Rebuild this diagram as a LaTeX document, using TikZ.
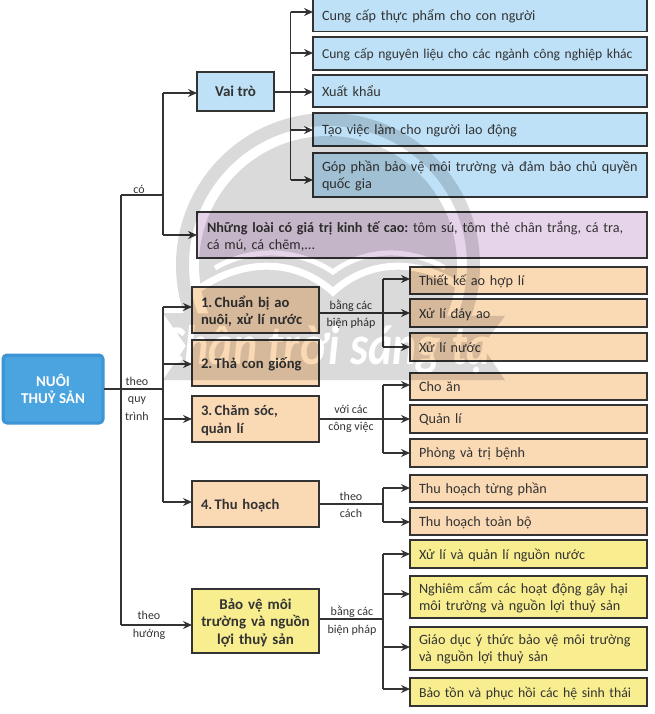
\documentclass[tikz,border=0pt]{standalone}
\usepackage{fontspec}
\setmainfont{Carlito}
\usetikzlibrary{arrows.meta}
\definecolor{inkcol}{HTML}{333333}
\definecolor{bluecol}{HTML}{BEE1F7}
\definecolor{maincol}{HTML}{4AA4DF}
\definecolor{mainedge}{HTML}{3A90D2}
\definecolor{purplecol}{HTML}{E6D5EA}
\definecolor{orangecol}{HTML}{FAD9B5}
\definecolor{yellowcol}{HTML}{F8EE8F}
\definecolor{markcol}{HTML}{DADADA}
\tikzset{
	box/.style={draw=inkcol,line width=1.3pt,text=inkcol,outer sep=0pt,inner xsep=9pt,inner ysep=0pt,align=left,font=\fontsize{14.2}{17}\selectfont},
	lineone/.style={text depth=0pt},
	linetwo/.style={text depth=17pt},
	linethree/.style={text depth=34.5pt},
	rolebox/.style={box,fill=bluecol,minimum width=334pt,text width=316pt},
	riskbox/.style={box,fill=yellowcol,minimum width=237pt,text width=219pt},
	stepitem/.style={box,lineone,fill=orangecol,minimum width=237pt,text width=219pt},
	stephead/.style={box,fill=orangecol,minimum width=127pt,text width=109pt,font=\bfseries\fontsize{14.6}{17.5}\selectfont},
	linklabel/.style={text=inkcol,inner sep=0pt,align=center,font=\fontsize{12}{17.5}\selectfont},
	wire/.style={draw=inkcol,line width=1.7pt},
	arrowwire/.style={wire,-{Stealth[length=9pt,width=8pt,inset=3pt]}}
}
\begin{document}
\frenchspacing
\begin{tikzpicture}[x=1pt,y=-1pt]
	\useasboundingbox (0,0) rectangle (654,714);
	\node [draw=mainedge,line width=.9pt,double=mainedge!60!maincol,double distance=1.2pt,fill=maincol,rounded corners=4pt,minimum width=100pt,minimum height=68pt,align=center,text=white,outer sep=1pt,inner sep=0pt,font=\bfseries\fontsize{15}{17.5}\selectfont] (aqua) at (53,389) {NUÔI\\THUỶ SẢN};
	
	\node [box,fill=bluecol,minimum width=77pt,minimum height=39pt,align=center,inner xsep=0pt,font=\bfseries\fontsize{15}{17}\selectfont] (role) at (235.5,91.5) {Vai trò};
	\node [rolebox,lineone,minimum height=32pt] (food) at (480,15.5) {Cung cấp thực phẩm cho con người};
	\node [rolebox,lineone,minimum height=33pt,font=\fontsize{13.6}{17}\selectfont] (material) at (480,53.5) {Cung cấp nguyên liệu cho các ngành công nghiệp khác};
	\node [rolebox,lineone,minimum height=32pt] (export) at (480,91) {Xuất khẩu};
	\node [rolebox,lineone,minimum height=33pt] (jobs) at (480,129.5) {Tạo việc làm cho người lao động};
	\node [rolebox,linetwo,minimum height=44pt] (protect) at (480,175) {Góp phần bảo vệ môi trường và đảm bảo chủ quyền\\quốc gia};
	\node [box,linetwo,fill=purplecol,minimum width=450pt,minimum height=46pt,text width=430pt,inner xsep=10pt] (species) at (422,235) {\textbf{Những loài có giá trị kinh tế cao:} tôm sú, tôm thẻ chân trắng, cá tra,\\cá mú, cá chẽm,...};
	
	\node [stephead,linetwo,minimum height=46pt] (prepare) at (255.5,310) {1.\,Chuẩn bị ao\\nuôi, xử lí nước};
	\node [stephead,lineone,minimum height=46pt] (stock) at (255.5,363) {2.\,Thả con giống};
	\node [stephead,linetwo,minimum height=46pt] (care) at (255.5,419) {3.\,Chăm sóc,\\quản lí};
	\node [stephead,lineone,minimum height=46pt] (harvest) at (255.5,504) {4.\,Thu hoạch};
	\node [box,linethree,fill=yellowcol,minimum width=127pt,minimum height=64pt,text width=120pt,inner xsep=3pt,align=center,font=\bfseries\fontsize{15}{17.5}\selectfont] (guard) at (255.5,621) {Bảo vệ môi\\trường và nguồn\\lợi thuỷ sản};
	
	\node [stepitem,minimum height=27pt] (design) at (528.5,280.5) {Thiết kế ao hợp lí};
	\node [stepitem,minimum height=28pt] (bottom) at (528.5,313) {Xử lí đáy ao};
	\node [stepitem,minimum height=28pt] (water) at (528.5,347) {Xử lí nước};
	\node [stepitem,minimum height=27pt] (feed) at (528.5,386.5) {Cho ăn};
	\node [stepitem,minimum height=28pt] (manage) at (528.5,419) {Quản lí};
	\node [stepitem,minimum height=28pt] (cure) at (528.5,453) {Phòng và trị bệnh};
	\node [stepitem,minimum height=27pt] (part) at (528.5,488.5) {Thu hoạch từng phần};
	\node [stepitem,minimum height=27pt] (whole) at (528.5,521.5) {Thu hoạch toàn bộ};
	\node [riskbox,lineone,minimum height=28pt] (source) at (528.5,554) {Xử lí và quản lí nguồn nước};
	\node [riskbox,linetwo,minimum height=42pt] (ban) at (528.5,597) {Nghiêm cấm các hoạt động gây hại\\môi trường và nguồn lợi thuỷ sản};
	\node [riskbox,linetwo,minimum height=43pt] (teach) at (528.5,648.5) {Giáo dục ý thức bảo vệ môi trường\\và nguồn lợi thuỷ sản};
	\node [riskbox,lineone,minimum height=28pt,font=\fontsize{13.8}{17}\selectfont] (restore) at (528.5,692) {Bảo tồn và phục hồi các hệ sinh thái};
	
	\coordinate (trunk) at (121,389);
	\coordinate (fork) at (163,389);
	\coordinate (hasfork) at (163,195);
	\coordinate (rolefork) at (290.5,92);
	\coordinate (prepfork) at (383,313);
	\coordinate (carefork) at (383,419);
	\coordinate (harvfork) at (383,504);
	\coordinate (guardfork) at (383,619);
	
	\draw [wire] (aqua.east |- trunk) -- (fork);
	\draw [wire] (trunk |- 0,195) -- (trunk |- 0,625);
	\draw [wire] (trunk |- 0,195) -- (hasfork);
	\draw [wire] (hasfork |- 0,93) -- (hasfork |- 0,235);
	\draw [arrowwire] (hasfork |- 0,93) -- (role.west |- 0,93);
	\draw [arrowwire] (hasfork |- 0,235) -- (species.west |- 0,235);
	\draw [wire] (fork |- 0,307) -- (fork |- 0,502);
	\draw [arrowwire] (fork |- 0,307) -- (prepare.west |- 0,307);
	\draw [arrowwire] (fork |- 0,364) -- (stock.west |- 0,364);
	\draw [arrowwire] (fork |- 0,419) -- (care.west |- 0,419);
	\draw [arrowwire] (fork |- 0,502) -- (harvest.west |- 0,502);
	\draw [arrowwire] (trunk |- 0,625) -- (guard.west |- 0,625);
	
	\draw [wire] (role.east |- rolefork) -- (rolefork);
	\draw [wire] (rolefork |- 0,12) -- (rolefork |- 0,180);
	\draw [arrowwire] (rolefork |- 0,12) -- (food.west |- 0,12);
	\draw [arrowwire] (rolefork |- 0,53) -- (material.west |- 0,53);
	\draw [arrowwire] (rolefork) -- (export.west |- rolefork);
	\draw [arrowwire] (rolefork |- 0,130) -- (jobs.west |- 0,130);
	\draw [arrowwire] (rolefork |- 0,180) -- (protect.west |- 0,180);
	
	\draw [wire] (prepare.east |- prepfork) -- (prepfork);
	\draw [wire] (prepfork |- 0,279) -- (prepfork |- 0,347);
	\draw [arrowwire] (prepfork |- 0,279) -- (design.west |- 0,279);
	\draw [arrowwire] (prepfork) -- (bottom.west |- prepfork);
	\draw [arrowwire] (prepfork |- 0,347) -- (water.west |- 0,347);
	
	\draw [wire] (care.east |- carefork) -- (carefork);
	\draw [wire] (carefork |- 0,385) -- (carefork |- 0,453);
	\draw [arrowwire] (carefork |- 0,385) -- (feed.west |- 0,385);
	\draw [arrowwire] (carefork) -- (manage.west |- carefork);
	\draw [arrowwire] (carefork |- 0,453) -- (cure.west |- 0,453);
	
	\draw [wire] (harvest.east |- harvfork) -- (harvfork);
	\draw [wire] (harvfork |- 0,488) -- (harvfork |- 0,522);
	\draw [arrowwire] (harvfork |- 0,488) -- (part.west |- 0,488);
	\draw [arrowwire] (harvfork |- 0,522) -- (whole.west |- 0,522);
	
	\draw [wire] (guard.east |- guardfork) -- (guardfork);
	\draw [wire] (guardfork |- 0,554) -- (guardfork |- 0,689);
	\draw [arrowwire] (guardfork |- 0,554) -- (source.west |- 0,554);
	\draw [arrowwire] (guardfork |- 0,594) -- (ban.west |- 0,594);
	\draw [arrowwire] (guardfork |- 0,647) -- (teach.west |- 0,647);
	\draw [arrowwire] (guardfork |- 0,689) -- (restore.west |- 0,689);
	
	\node [linklabel] (hasword) at (139,189) {có};
	\node [linklabel] (flowword) at (137,398.5) {theo\\quy\\trình};
	\node [linklabel] (wayword) at (149,625.5) {theo\\hướng};
	\node [linklabel] (prepword) at (351,314) {bằng các\\biện pháp};
	\node [linklabel] (careword) at (351,419) {với các\\công việc};
	\node [linklabel] (harvword) at (351,505) {theo\\cách};
	\node [linklabel] (guardword) at (352,620.5) {bằng các\\biện pháp};
	
	\begin{scope}[transparency group,blend mode=multiply]
		\begin{scope}
			\clip (100,100) rectangle (560,316);
			\fill [markcol,even odd rule] (328,265) circle (152) (328,265) circle (139);
			\fill [markcol] (328,265) circle (129);
		\end{scope}
		\draw [white,line width=7pt] (200,288) .. controls (250,255) and (300,262) .. (333,292) .. controls (365,262) and (415,255) .. (462,288);
		\draw [white,line width=5pt] (215,268) .. controls (255,245) and (300,250) .. (333,272) .. controls (362,250) and (405,245) .. (445,268);
		\fill [markcol] (163,313) -- (505,316) -- (482,346) -- (505,380) -- (163,380) -- (186,346) -- cycle;
		\node [white,inner sep=0pt,xscale=.82,transform shape,font=\bfseries\itshape\fontsize{56}{56}\selectfont] (brand) at (338,350) {Chân trời sáng tạo};
	\end{scope}
\end{tikzpicture}
\end{document}
